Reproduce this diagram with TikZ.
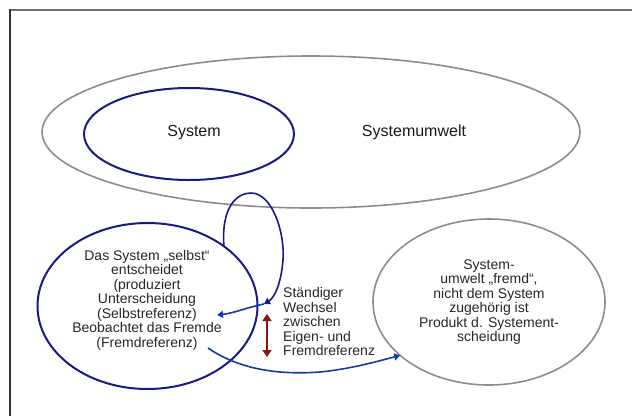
\documentclass[tikz,border=0pt]{standalone}
\usepackage{fontspec}
\setmainfont{Liberation Sans}
\usetikzlibrary{shapes.geometric,arrows.meta}
\definecolor{navy}{RGB}{25,25,135}
\definecolor{midblue}{RGB}{20,60,165}
\definecolor{darkred}{RGB}{140,20,20}
\definecolor{ringgray}{RGB}{140,140,140}
\definecolor{framegray}{RGB}{110,110,110}
\begin{document}
\begin{tikzpicture}[x=1pt,y=-1pt,
  ring/.style={ellipse,draw,inner sep=0pt,outer sep=0pt},
  grayring/.style={ring,draw=ringgray,line width=1.6pt},
  bluering/.style={ring,draw=navy,line width=2pt},
  biglabel/.style={font=\fontsize{16}{19}\selectfont,inner sep=0pt,text=black!90},
  bodytext/.style={font=\fontsize{14}{14.5}\selectfont,inner sep=0pt,text=black!85},
  tip/.style={-{Triangle[width=7pt,length=6pt]}},
]
\useasboundingbox (0,0) rectangle (632,416);
% frame
\draw[framegray,line width=2pt] (9,10) -- (632,10);
\draw[black!80,line width=2pt] (9.5,9) -- (9.5,416);

% top: system within environment
\node[grayring,minimum width=538pt,minimum height=152pt] (env) at (311,132) {};
\node[bluering,minimum width=210pt,minimum height=92pt] (sys) at (189,134) {};
\node[biglabel] (syslabel) at (194,133) {System};
\node[biglabel] (envlabel) at (414,132) {Systemumwelt};

% bottom
\node[bluering,minimum width=220pt,minimum height=166pt] (L) at (147.5,306) {};
\node[grayring,minimum width=232pt,minimum height=166pt] (R) at (489,302) {};

\node[bodytext,align=center] (ltext) at (147,300) {Das System „selbst“\\entscheidet\\(produziert\\Unterscheidung\\(Selbstreferenz)\\Beobachtet das Fremde\\(Fremdreferenz)};
\node[bodytext,align=center] (rtext) at (489,302) {System-\\umwelt „fremd“,\\nicht dem System\\zugehörig ist\\Produkt d. Systement-\\scheidung};
\node[bodytext,align=left,anchor=west] (mtext) at (283,321.5) {Ständiger\\Wechsel\\zwischen\\Eigen- und\\Fremdreferenz};

% self-reference loop
\coordinate (loopend) at (264,304);
\coordinate (backtip) at (217,315);
\draw[navy,line width=1.6pt,tip] (L.38) .. controls (221,205) and (238,193) .. (251,193)
  .. controls (272,193) and (285,232) .. (283,260)
  .. controls (281,285) and (274,298) .. (loopend);
\draw[midblue,line width=1.6pt,tip] (loopend) .. controls (248,307) and (235,313) .. (backtip);

% constant alternation
\coordinate (ra) at (267,314);
\coordinate (rb) at (267,357);
\draw[darkred,line width=2.2pt,{Triangle[width=9pt,length=7pt]}-{Triangle[width=9pt,length=7pt]}] (ra) -- (rb);

% observation of the other
\coordinate (obsstart) at (208,348);
\draw[midblue,line width=1.6pt,tip] (obsstart) .. controls (240,370) and (280,375) .. (320,372)
  .. controls (350,369) and (375,362) .. (R.211);
\end{tikzpicture}
\end{document}
